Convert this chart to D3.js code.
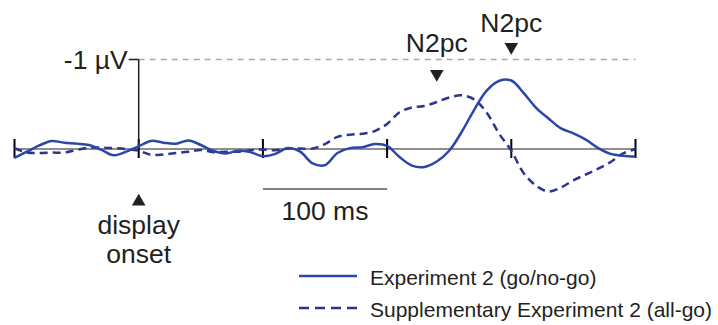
<!DOCTYPE html>
<html>
<head>
<meta charset="utf-8">
<script src="https://cdn.jsdelivr.net/npm/d3@7"></script>
<style>
  body { margin: 0; background: #fff; }
  svg text { font-family: "Liberation Sans", Arial, sans-serif; fill: #231f20; }
</style>
</head>
<body>
<div id="chart"></div>
<script>
// time points in ms (relative to display onset)
const times = d3.range(-100, 401, 10)
// Experiment 2 (go/no-go), µV, negative is up
const exp2 = [0.10, 0.03, -0.04, -0.09, -0.07, -0.06, -0.045, 0.01, 0.07, 0.03,
  -0.03, -0.09, -0.07, -0.06, -0.095, -0.045, 0.02, 0.05, 0.02, 0.035,
  0.08, 0.055, -0.01, 0.03, 0.16, 0.18, 0.045, -0.01, -0.02, -0.055,
  -0.035, 0.09, 0.185, 0.20, 0.14, 0.02, -0.19, -0.435, -0.65, -0.76,
  -0.765, -0.625, -0.46, -0.34, -0.23, -0.175, -0.105, -0.01, 0.055, 0.075,
  0.085]
// Supplementary Experiment 2 (all-go)
const supp2 = [-0.01, 0.04, 0.045, 0.04, 0.04, 0.01, -0.015, -0.015, -0.01, 0.0,
  0.02, 0.065, 0.06, 0.045, 0.03, 0.01, 0.035, 0.03, 0.03, 0.015,
  0.005, 0.015, -0.005, -0.005, -0.005, -0.055, -0.135, -0.16, -0.17, -0.2,
  -0.28, -0.41, -0.465, -0.48, -0.525, -0.575, -0.6, -0.555, -0.41, -0.175,
  0.02, 0.27, 0.41, 0.475, 0.43, 0.35, 0.285, 0.22, 0.145, 0.05,
  0.0]
const tickTimes = [-100, 0, 100, 200, 300, 400]
const seriesNames = ['Experiment 2 (go/no-go)', 'Supplementary Experiment 2 (all-go)']
const peaks = [{ t: 240, label: 'N2pc' }, { t: 300, label: 'N2pc' }]

const w = 718, h = 325
const x = d3.scaleLinear().domain([-100, 400]).range([14.5, 635.5])
const y = d3.scaleLinear().domain([0, -1]).range([149, 59.5])

const svg = d3.select('#chart').append('svg')
  .attr('width', w).attr('height', h)

// -1 µV reference line
svg.append('line')
  .attr('x1', x(0)).attr('x2', x(400))
  .attr('y1', y(-1)).attr('y2', y(-1))
  .attr('stroke', '#a7a9ac').attr('stroke-width', 1.5)
  .attr('stroke-dasharray', '6,5')

// time axis
svg.append('line')
  .attr('x1', x(-100)).attr('x2', x(400))
  .attr('y1', y(0)).attr('y2', y(0))
  .attr('stroke', '#231f20').attr('stroke-width', 1.2)

svg.selectAll('.tick')
  .data(tickTimes)
  .enter()
  .append('line')
  .attr('x1', d => x(d)).attr('x2', d => x(d))
  .attr('y1', y(0) - 10).attr('y2', y(0) + 9)
  .attr('stroke', '#000').attr('stroke-width', 2)

// voltage axis
svg.append('line')
  .attr('x1', x(0)).attr('x2', x(0))
  .attr('y1', y(0)).attr('y2', y(-1))
  .attr('stroke', '#231f20').attr('stroke-width', 1.5)
svg.append('line')
  .attr('x1', x(0) - 10).attr('x2', x(0))
  .attr('y1', y(-1)).attr('y2', y(-1))
  .attr('stroke', '#231f20').attr('stroke-width', 1.5)
svg.append('text')
  .attr('x', x(0) - 11).attr('y', 69)
  .attr('text-anchor', 'end')
  .style('font-size', '26.5px')
  .text('-1 µV')

// waveforms
const line = d3.line()
  .x((d, i) => x(times[i]))
  .y(d => y(d))
  .curve(d3.curveCatmullRom)

svg.append('path')
  .attr('d', line(supp2))
  .attr('fill', 'none')
  .attr('stroke', '#2c3592').attr('stroke-width', 2.5)
  .attr('stroke-dasharray', '8,5')

svg.append('path')
  .attr('d', line(exp2))
  .attr('fill', 'none')
  .attr('stroke', '#2a47a8').attr('stroke-width', 2.5)

// N2pc markers
const tri = d3.symbol().type(d3.symbolTriangle).size(80)
const peakY = [74, 47]
const peakTextY = [52, 32]
peaks.forEach((p, i) => {
  svg.append('path')
    .attr('d', tri())
    .attr('transform', 'translate(' + x(p.t) + ',' + peakY[i] + ') rotate(180)')
    .attr('fill', '#231f20')
  svg.append('text')
    .attr('x', x(p.t)).attr('y', peakTextY[i])
    .attr('text-anchor', 'middle')
    .style('font-size', '26.5px')
    .text(p.label)
})

// display onset marker
svg.append('path')
  .attr('d', tri())
  .attr('transform', 'translate(' + x(0) + ',201.5)')
  .attr('fill', '#231f20')
svg.append('text')
  .attr('x', x(0)).attr('y', 234)
  .attr('text-anchor', 'middle')
  .style('font-size', '26.5px')
  .text('display')
svg.append('text')
  .attr('x', x(0)).attr('y', 263)
  .attr('text-anchor', 'middle')
  .style('font-size', '26.5px')
  .text('onset')

// 100 ms scale bar
svg.append('line')
  .attr('x1', x(100)).attr('x2', x(200))
  .attr('y1', 189).attr('y2', 189)
  .attr('stroke', '#58595b').attr('stroke-width', 1.5)
svg.append('text')
  .attr('x', x(150)).attr('y', 220)
  .attr('text-anchor', 'middle')
  .style('font-size', '26.5px')
  .text('100 ms')

// legend
const legend = svg.selectAll('.legend')
  .data(seriesNames)
  .enter()
  .append('g')
  .attr('transform', (d, i) => 'translate(299,' + (276 + i * 32) + ')')

legend.append('line')
  .attr('x1', 0).attr('x2', 58)
  .attr('stroke', (d, i) => i ? '#2c3592' : '#2a47a8')
  .attr('stroke-width', 2.5)
  .attr('stroke-dasharray', (d, i) => i ? '10,6' : null)

legend.append('text')
  .attr('x', 71).attr('y', 9)
  .style('font-size', '21px')
  .text(d => d)
</script>
</body>
</html>
